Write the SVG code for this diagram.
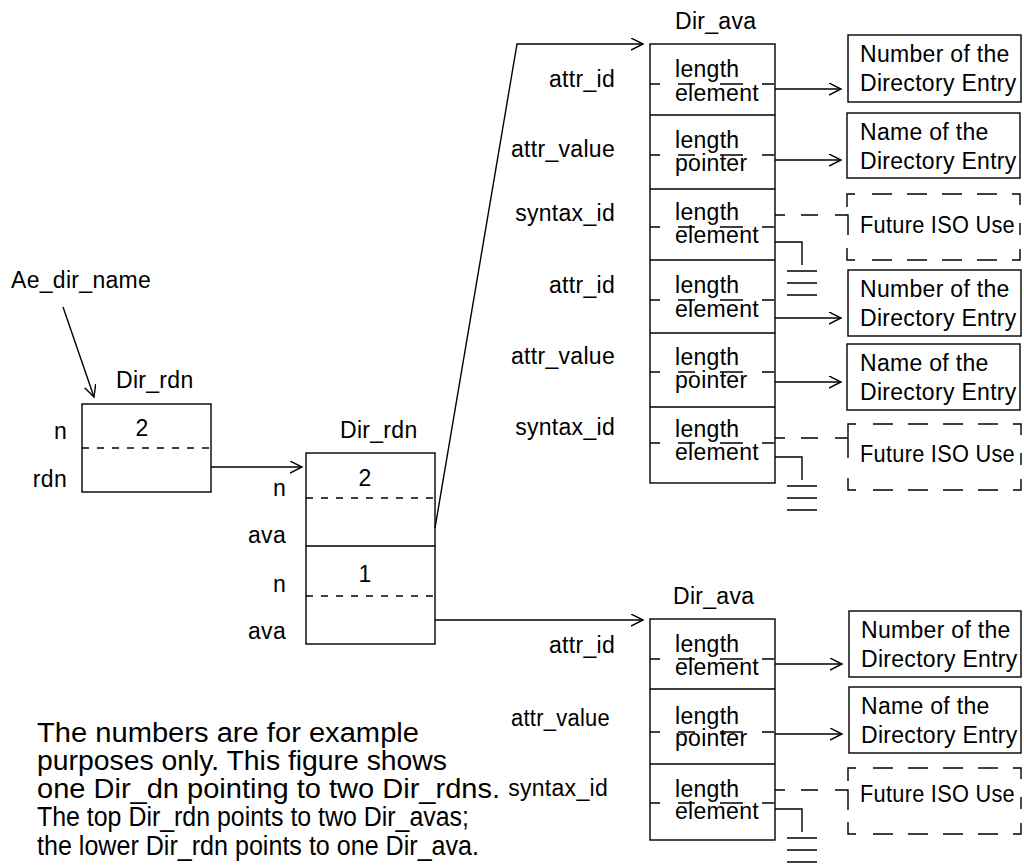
<svg xmlns="http://www.w3.org/2000/svg" xmlns:xlink="http://www.w3.org/1999/xlink" width="1024" height="867" viewBox="0 0 1024 867">
<style>
text{font-family:"Liberation Sans",Arial,Helvetica,sans-serif;font-size:23px;fill:#000;letter-spacing:0.3px}
.note{font-size:27px;letter-spacing:0}
.end{text-anchor:end}
.mid{text-anchor:middle}
.box{fill:none;stroke:#000;stroke-width:1.4}
.ln{fill:none;stroke:#000;stroke-width:1.4}
.dot{fill:none;stroke:#000;stroke-width:1.4;stroke-dasharray:7 8}
</style>
<defs>
<marker id="ah" markerWidth="14" markerHeight="14" refX="12" refY="6" orient="auto" markerUnits="userSpaceOnUse">
<path d="M0,0 L12,6 L0,12" fill="none" stroke="#000" stroke-width="1.4"/>
</marker>
<path id="rowdash" d="M0,0h10M28,0h17M70,0h23M112,0h12" fill="none" stroke="#000" stroke-width="1.4"/>
<path id="futbox" d="M0,13V0H8M25,0H45M60,0H80M95,0H115M130,0H150M165,0H173V11M173,29V41M173,55V66H165M150,66H130M115,66H95M80,66H60M45,66H25M8,66H0V54" fill="none" stroke="#000" stroke-width="1.4"/>
<path id="ground" d="M0,0H27V23M12,29H42M12,41H42M12,53H42" fill="none" stroke="#000" stroke-width="1.4"/>
<path id="dconn" d="M0,0h10M26,0h17M60,0h13v20" fill="none" stroke="#000" stroke-width="1.4"/>
</defs>

<g id="ae_dir_name">
<text x="11" y="288">Ae_dir_name</text>
</g>

<g id="dir_rdn_1">
<text x="116" y="388">Dir_rdn</text>
<rect class="box" x="82" y="404" width="129" height="88"/>
<line class="dot" x1="82" y1="448" x2="211" y2="448"/>
<text class="mid" x="142" y="436">2</text>
<text class="end" x="67" y="439">n</text>
<text class="end" x="67" y="487">rdn</text>
</g>

<g id="dir_rdn_2">
<text x="340" y="438">Dir_rdn</text>
<rect class="box" x="306" y="453" width="129" height="191"/>
<line class="ln" x1="306" y1="546" x2="435" y2="546"/>
<line class="dot" x1="306" y1="498" x2="435" y2="498"/>
<line class="dot" x1="306" y1="596" x2="435" y2="596"/>
<text class="mid" x="365" y="486">2</text>
<text class="mid" x="365" y="582">1</text>
<text class="end" x="286" y="496">n</text>
<text class="end" x="286" y="543">ava</text>
<text class="end" x="286" y="592">n</text>
<text class="end" x="286" y="639">ava</text>
</g>

<g id="dir_ava_1">
<text x="675" y="29">Dir_ava</text>
<rect class="box" x="650" y="44" width="125" height="439"/>
<path class="ln" d="M650,115H775M650,189H775M650,260H775M650,333H775M650,407H775"/>
<text class="end" x="615" y="87">attr_id</text>
<text class="end" x="615" y="157">attr_value</text>
<text class="end" x="615" y="221">syntax_id</text>
<text class="end" x="615" y="293">attr_id</text>
<text class="end" x="615" y="364">attr_value</text>
<text class="end" x="615" y="435">syntax_id</text>
<text x="675" y="77">length</text><text x="675" y="101">element</text><use xlink:href="#rowdash" transform="translate(650,84)"/>
<text x="675" y="148">length</text><text x="675" y="171">pointer</text><use xlink:href="#rowdash" transform="translate(650,155)"/>
<text x="675" y="220">length</text><text x="675" y="243">element</text><use xlink:href="#rowdash" transform="translate(650,227)"/>
<text x="675" y="293">length</text><text x="675" y="317">element</text><use xlink:href="#rowdash" transform="translate(650,300)"/>
<text x="675" y="365">length</text><text x="675" y="388">pointer</text><use xlink:href="#rowdash" transform="translate(650,372)"/>
<text x="675" y="437">length</text><text x="675" y="460">element</text><use xlink:href="#rowdash" transform="translate(650,443)"/>
</g>

<g id="dir_ava_2">
<text x="673" y="604">Dir_ava</text>
<rect class="box" x="650" y="619" width="125" height="221"/>
<path class="ln" d="M650,689H775M650,764H775"/>
<text class="end" x="615" y="653">attr_id</text>
<text class="end" x="610" y="726" textLength="99" lengthAdjust="spacingAndGlyphs">attr_value</text>
<text class="end" x="608" y="796">syntax_id</text>
<text x="675" y="652">length</text><text x="675" y="675">element</text><use xlink:href="#rowdash" transform="translate(650,659)"/>
<text x="675" y="724">length</text><text x="675" y="746">pointer</text><use xlink:href="#rowdash" transform="translate(650,732)"/>
<text x="675" y="797">length</text><text x="675" y="819">element</text><use xlink:href="#rowdash" transform="translate(650,803)"/>
</g>

<g id="number_1">
<rect class="box" x="848" y="35" width="173" height="67"/>
<text x="860" y="62">Number of the</text><text x="860" y="91">Directory Entry</text>
</g>
<g id="name_1">
<rect class="box" x="847" y="113" width="173" height="65"/>
<text x="860" y="140">Name of the</text><text x="860" y="169">Directory Entry</text>
</g>
<g id="future_1">
<use xlink:href="#futbox" transform="translate(847,194)"/>
<text x="860" y="233" textLength="155" lengthAdjust="spacingAndGlyphs">Future ISO Use</text>
</g>
<g id="number_2">
<rect class="box" x="848" y="270" width="173" height="66"/>
<text x="860" y="297">Number of the</text><text x="860" y="326">Directory Entry</text>
</g>
<g id="name_2">
<rect class="box" x="847" y="344" width="173" height="66"/>
<text x="860" y="371">Name of the</text><text x="860" y="400">Directory Entry</text>
</g>
<g id="future_2">
<use xlink:href="#futbox" transform="translate(848,424)"/>
<text x="860" y="462" textLength="155" lengthAdjust="spacingAndGlyphs">Future ISO Use</text>
</g>
<g id="number_3">
<rect class="box" x="849" y="611" width="172" height="66"/>
<text x="861" y="638">Number of the</text><text x="861" y="667">Directory Entry</text>
</g>
<g id="name_3">
<rect class="box" x="849" y="687" width="172" height="66"/>
<text x="861" y="714">Name of the</text><text x="861" y="743">Directory Entry</text>
</g>
<g id="future_3">
<use xlink:href="#futbox" transform="translate(848,768)"/>
<text x="860" y="802" textLength="155" lengthAdjust="spacingAndGlyphs">Future ISO Use</text>
</g>

<g id="connectors">
<path class="ln" d="M63,307L94,397" marker-end="url(#ah)"/>
<path class="ln" d="M211,467H302" marker-end="url(#ah)"/>
<path class="ln" d="M435,528L517,44H643" marker-end="url(#ah)"/>
<path class="ln" d="M435,620H643" marker-end="url(#ah)"/>
<path class="ln" d="M775,89H841" marker-end="url(#ah)"/>
<path class="ln" d="M775,160H841" marker-end="url(#ah)"/>
<path class="ln" d="M775,318H841" marker-end="url(#ah)"/>
<path class="ln" d="M775,382H841" marker-end="url(#ah)"/>
<path class="ln" d="M775,664H842" marker-end="url(#ah)"/>
<path class="ln" d="M775,734H842" marker-end="url(#ah)"/>
<use xlink:href="#dconn" transform="translate(775,215)"/>
<use xlink:href="#dconn" transform="translate(775,438)"/>
<use xlink:href="#dconn" transform="translate(775,790)"/>
<use xlink:href="#ground" transform="translate(775,242)"/>
<use xlink:href="#ground" transform="translate(775,457)"/>
<use xlink:href="#ground" transform="translate(775,809)"/>
</g>

<g id="note">
<text class="note" x="37" y="742" textLength="382" lengthAdjust="spacingAndGlyphs">The numbers are for example</text>
<text class="note" x="37" y="770" textLength="410" lengthAdjust="spacingAndGlyphs">purposes only. This figure shows</text>
<text class="note" x="37" y="798" textLength="463" lengthAdjust="spacingAndGlyphs">one Dir_dn pointing to two Dir_rdns.</text>
<text class="note" x="37" y="826" textLength="432" lengthAdjust="spacingAndGlyphs">The top Dir_rdn points to two Dir_avas;</text>
<text class="note" x="37" y="855" textLength="442" lengthAdjust="spacingAndGlyphs">the lower Dir_rdn points to one Dir_ava.</text>
</g>
</svg>
